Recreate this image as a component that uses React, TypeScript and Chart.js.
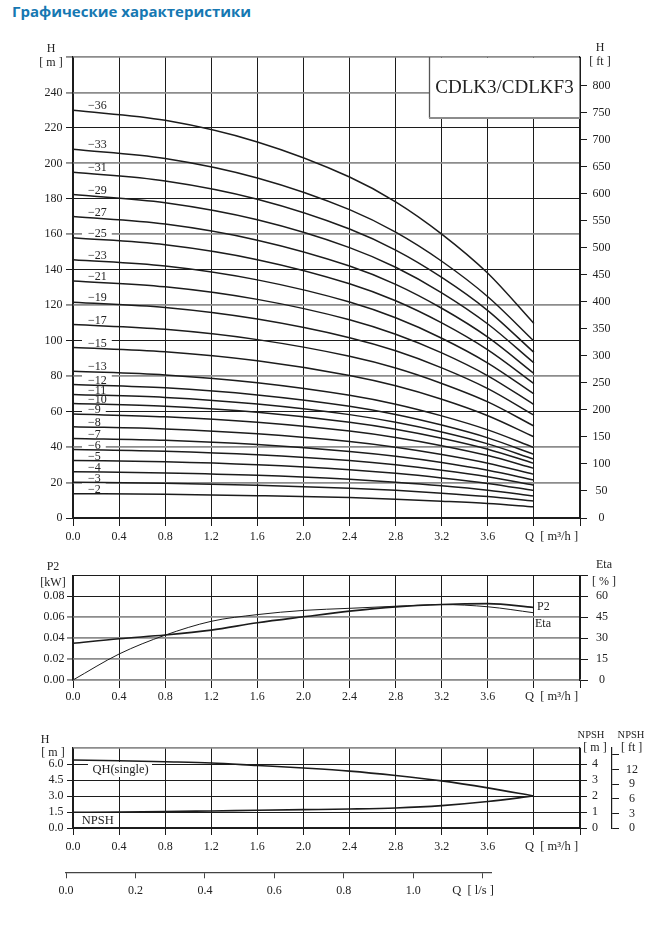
import React, { useEffect, useRef } from 'react';
import { Chart, registerables } from 'chart.js';

Chart.register(...registerables);

const SERIF = "'Liberation Serif', 'DejaVu Serif', serif";
const INK = '#1c1c1c';
const GREY = '#8c8c8c';
const TXT = '#222';

// ---------------- shared Q axis (m³/h) ----------------
const Q_MAX = 4.4;
const Q_AXIS_TICKS = [0, 0.4, 0.8, 1.2, 1.6, 2.0, 2.4, 2.8, 3.2, 3.6, 4.0, 4.4];
const Q_AXIS_LABELS = ['0.0', '0.4', '0.8', '1.2', '1.6', '2.0', '2.4', '2.8', '3.2', '3.6', '', ''];

// ---------------- top panel: H per stage count ----------------
const M_TO_FT = 3.28084;
const H_M_MAX = 260;
const H_M_TICKS = [0, 20, 40, 60, 80, 100, 120, 140, 160, 180, 200, 220, 240, 260];
const H_M_LABELS = ['0', '20', '40', '60', '80', '100', '120', '140', '160', '180', '200', '220', '240', ''];
const H_M_GREY = [20, 40, 80, 120, 160, 200, 240, 260];
const H_FT_TICKS = [0, 50, 100, 150, 200, 250, 300, 350, 400, 450, 500, 550, 600, 650, 700, 750, 800];
const H_FT_LABELS = ['0', '50', '100', '150', '200', '250', '300', '350', '400', '450', '500', '550', '600', '650', '700', '750', '800'];

const Q_CURVE = [0, 0.8, 1.6, 2.4, 2.8, 3.2, 3.6, 4.0];
const STAGES = [36, 33, 31, 29, 27, 25, 23, 21, 19, 17, 15, 13, 12, 11, 10, 9, 8, 7, 6, 5, 4, 3, 2];
const H_S36 = [230, 224.3, 212.1, 192.3, 178.3, 160.1, 138.0, 109.7];
const H_S33 = [208, 202.8, 191.8, 173.9, 161.2, 144.8, 124.8, 99.8];
const H_S31 = [195, 190.1, 179.8, 163.0, 151.1, 135.7, 117.0, 93.4];
const H_S29 = [182.4, 177.8, 168.2, 152.5, 141.4, 127.0, 109.4, 87.5];
const H_S27 = [170, 165.8, 156.7, 142.1, 131.8, 118.3, 102.0, 81.5];
const H_S25 = [158, 154.1, 145.7, 132.1, 122.5, 110.0, 94.8, 75.8];
const H_S23 = [145.7, 142.1, 134.3, 121.8, 112.9, 101.4, 87.4, 70.0];
const H_S21 = [133.7, 130.4, 123.3, 111.8, 103.6, 93.1, 80.2, 64.0];
const H_S19 = [121.7, 118.7, 112.2, 101.7, 94.3, 84.7, 73.0, 58.0];
const H_S17 = [109.1, 106.4, 100.6, 91.2, 84.6, 75.9, 65.5, 51.9];
const H_S15 = [96.2, 93.8, 88.7, 80.4, 74.6, 67.0, 57.7, 45.8];
const H_S13 = [82.8, 80.7, 76.3, 69.2, 64.2, 57.6, 49.7, 39.8];
const H_S12 = [75.3, 73.4, 69.4, 63.0, 58.4, 52.4, 45.2, 35.9];
const H_S11 = [69.7, 68.0, 64.3, 58.3, 54.0, 48.5, 41.8, 33.2];
const H_S10 = [64.6, 63.0, 59.6, 54.0, 50.1, 45.0, 38.8, 30.8];
const H_S9 = [58.6, 57.1, 54.0, 49.0, 45.4, 40.8, 35.2, 28.0];
const H_S8 = [51.5, 50.2, 47.5, 43.1, 39.9, 35.8, 30.9, 24.6];
const H_S7 = [44.9, 43.8, 41.4, 37.5, 34.8, 31.3, 26.9, 21.4];
const H_S6 = [38.7, 37.7, 35.7, 32.4, 30.0, 26.9, 23.2, 18.5];
const H_S5 = [32.5, 31.7, 30.0, 27.2, 25.2, 22.6, 19.5, 15.5];
const H_S4 = [26.1, 25.4, 24.1, 21.8, 20.2, 18.2, 15.7, 12.4];
const H_S3 = [20.1, 19.6, 18.5, 16.8, 15.6, 14.0, 12.1, 9.6];
const H_S2 = [13.7, 13.4, 12.6, 11.5, 10.6, 9.5, 8.2, 6.3];
const H_CURVES = [H_S36, H_S33, H_S31, H_S29, H_S27, H_S25, H_S23, H_S21, H_S19, H_S17, H_S15, H_S13,
  H_S12, H_S11, H_S10, H_S9, H_S8, H_S7, H_S6, H_S5, H_S4, H_S3, H_S2];
const MODEL_NAME = 'CDLK3/CDLKF3';

// ---------------- middle panel: P2 / Eta ----------------
const Q_PERF = [0, 0.4, 0.8, 1.2, 1.6, 2.0, 2.4, 2.8, 3.2, 3.6, 4.0];
const P2_KW = [0.035, 0.0394, 0.0429, 0.0476, 0.0546, 0.0603, 0.0657, 0.0698, 0.0721, 0.0729, 0.0692];
const ETA_PCT = [0, 18.6, 32.1, 42.0, 46.8, 49.8, 51.3, 52.8, 54.0, 52.4, 48.1];
const P2_MAX = 0.1;
const P2_TICKS = [0, 0.02, 0.04, 0.06, 0.08, 0.1];
const P2_LABELS = ['0.00', '0.02', '0.04', '0.06', '0.08', ''];
const P2_GREY = [0, 0.02, 0.04, 0.06];
const ETA_MAX = 75;
const ETA_TICKS = [0, 15, 30, 45, 60, 75];
const ETA_LABELS = ['0', '15', '30', '45', '60', ''];

// ---------------- bottom panel: QH(single) / NPSH ----------------
const QH_SINGLE = [6.37, 6.3, 6.21, 6.1, 5.86, 5.62, 5.33, 4.92, 4.42, 3.76, 3.0];
const NPSH_M = [1.47, 1.5, 1.54, 1.6, 1.66, 1.72, 1.78, 1.88, 2.1, 2.48, 3.0];
const HS_MAX = 7.5;
const HS_TICKS = [0, 1.5, 3.0, 4.5, 6.0, 7.5];
const HS_LABELS = ['0.0', '1.5', '3.0', '4.5', '6.0', ''];
const NPSH_M_MAX = 5;
const NPSH_M_TICKS = [0, 1, 2, 3, 4, 5];
const NPSH_M_LABELS = ['0', '1', '2', '3', '4', ''];
const NPSH_FT_TICKS = [0, 3, 6, 9, 12, 15];
const NPSH_FT_LABELS = ['0', '3', '6', '9', '12', ''];

// ---------------- l/s axis ----------------
const QLS_MAX = 1.224;
const QLS_TICKS = [0, 0.2, 0.4, 0.6, 0.8, 1.0, 1.2];
const QLS_LABELS = ['0.0', '0.2', '0.4', '0.6', '0.8', '1.0', ''];

// ---------------- layout (page coordinates) ----------------
const W = 653;
const TOP_Y = 30, TOP_H = 530;
const MID_Y = 560, MID_H = 150;
const BOT_Y = 710, BOT_H = 150;
const LS_Y = 860, LS_H = 70;

const fixed = (vals: number[]) => (s: any) => { s.ticks = vals.map((v) => ({ value: v })); };
const lbl = (labels: string[]) => (_v: any, i: number) => labels[i] ?? '';
const tickFont = { family: SERIF, size: 12 };

function text(ctx: CanvasRenderingContext2D, s: string, x: number, y: number, size = 12, align: CanvasTextAlign = 'center') {
  ctx.font = `${size}px ${SERIF}`;
  ctx.textAlign = align;
  ctx.textBaseline = 'middle';
  ctx.fillStyle = TXT;
  ctx.fillText(s, x, y);
}

function qAxis(height: number, pad: number, tickLen: number, borderColor: string) {
  return {
    type: 'linear', position: 'bottom', min: 0, max: Q_MAX,
    afterFit: (s: any) => { s.height = height; },
    afterBuildTicks: fixed(Q_AXIS_TICKS),
    ticks: { callback: lbl(Q_AXIS_LABELS), autoSkip: false, maxRotation: 0, padding: pad, font: tickFont, color: TXT },
    grid: { color: INK, lineWidth: 1, tickLength: tickLen },
    border: { color: borderColor, width: 1.2 },
  };
}

const baseOptions = {
  responsive: false,
  animation: false,
  events: [],
  plugins: { legend: { display: false }, tooltip: { enabled: false } },
};

// ---------------- top chart ----------------
const topDecor = {
  id: 'topDecor',
  beforeDatasetsDraw(chart: any) {
    const ctx = chart.ctx as CanvasRenderingContext2D;
    const y = chart.scales.y;
    ctx.save();
    ctx.font = `12px ${SERIF}`;
    STAGES.forEach((n, i) => {
      const cy = y.getPixelForValue(H_CURVES[i][0]) - 4;
      const w = ctx.measureText(`\u2212${n}`).width;
      H_M_TICKS.forEach((g) => {
        const gy = y.getPixelForValue(g);
        if (Math.abs(gy - cy) < 4.6) {
          ctx.fillStyle = '#fff';
          ctx.fillRect(82, gy - 1.8, 88 + w + 5 - 82, 3.6);
        }
      });
    });
    ctx.restore();
  },
  afterDatasetsDraw(chart: any) {
    const ctx = chart.ctx as CanvasRenderingContext2D;
    const y = chart.scales.y;
    ctx.save();
    STAGES.forEach((n, i) => {
      const cy = y.getPixelForValue(H_CURVES[i][0]) - 4;
      text(ctx, `\u2212${n}`, 88, cy, 12, 'left');
    });
    // model box
    const top = chart.chartArea.top;
    ctx.fillStyle = '#fff';
    ctx.fillRect(429.5, top + 1, 150, 60.2);
    ctx.strokeStyle = '#555';
    ctx.lineWidth = 1.3;
    ctx.beginPath();
    ctx.moveTo(429.5, top);
    ctx.lineTo(429.5, top + 61);
    ctx.stroke();
    ctx.strokeStyle = GREY;
    ctx.lineWidth = 1.8;
    ctx.beginPath();
    ctx.moveTo(429, top + 61);
    ctx.lineTo(580, top + 61);
    ctx.stroke();
    text(ctx, MODEL_NAME, 504.5, 88.3 - TOP_Y, 19);
    // axis titles
    text(ctx, 'H', 51, 49 - TOP_Y);
    text(ctx, '[ m ]', 51, 63 - TOP_Y);
    text(ctx, 'H', 600, 48 - TOP_Y);
    text(ctx, '[ ft ]', 600, 61.7 - TOP_Y);
    text(ctx, 'Q  [ m\u00b3/h ]', 525, 537 - TOP_Y, 12.5, 'left');
    ctx.restore();
  },
};

function topConfig(): any {
  const datasets = STAGES.map((n, i) => ({
    label: `\u2212${n}`,
    data: Q_CURVE.map((q, j) => ({ x: q, y: H_CURVES[i][j] })),
    borderColor: INK,
    borderWidth: 1.5,
    pointRadius: 0,
    fill: false,
    cubicInterpolationMode: 'monotone',
  }));
  return {
    type: 'line',
    data: { datasets },
    options: {
      ...baseOptions,
      layout: { padding: { top: 57 - TOP_Y, left: 0, right: 0, bottom: 0 } },
      scales: {
        x: qAxis(TOP_Y + TOP_H - 518, 4, 8, INK),
        y: {
          type: 'linear', position: 'left', min: 0, max: H_M_MAX,
          afterFit: (s: any) => { s.width = 73; },
          afterBuildTicks: fixed(H_M_TICKS),
          ticks: { callback: lbl(H_M_LABELS), autoSkip: false, padding: 3.5, font: tickFont, color: TXT },
          grid: {
            color: (c: any) => (H_M_GREY.includes(c.tick?.value) ? GREY : INK),
            lineWidth: (c: any) => (H_M_GREY.includes(c.tick?.value) ? 1.8 : 1),
            tickLength: 7,
          },
          border: { color: INK, width: 1.2 },
        },
        yft: {
          type: 'linear', position: 'right', min: 0, max: H_M_MAX * M_TO_FT,
          afterFit: (s: any) => { s.width = W - 580; },
          afterBuildTicks: fixed(H_FT_TICKS),
          ticks: { callback: lbl(H_FT_LABELS), autoSkip: false, padding: 5.4, crossAlign: 'center', font: tickFont, color: TXT },
          grid: { drawOnChartArea: false, color: INK, lineWidth: 1, tickLength: 7 },
          border: { color: INK, width: 1.2 },
        },
      },
    },
    plugins: [topDecor],
  };
}

// ---------------- middle chart ----------------
const midDecor = {
  id: 'midDecor',
  afterDatasetsDraw(chart: any) {
    const ctx = chart.ctx as CanvasRenderingContext2D;
    ctx.save();
    text(ctx, 'P2', 53, 567 - MID_Y);
    text(ctx, '[kW]', 53, 583 - MID_Y);
    text(ctx, 'Eta', 604, 565 - MID_Y);
    text(ctx, '[ % ]', 604, 581.7 - MID_Y);
    text(ctx, 'P2', 537, 606.7 - MID_Y, 12, 'left');
    text(ctx, 'Eta', 535, 624 - MID_Y, 12, 'left');
    text(ctx, 'Q  [ m\u00b3/h ]', 525, 696.7 - MID_Y, 12.5, 'left');
    ctx.restore();
  },
};

function midConfig(): any {
  return {
    type: 'line',
    data: {
      datasets: [
        {
          label: 'P2', yAxisID: 'y',
          data: Q_PERF.map((q, j) => ({ x: q, y: P2_KW[j] })),
          borderColor: INK, borderWidth: 1.6, pointRadius: 0, fill: false, cubicInterpolationMode: 'monotone',
        },
        {
          label: 'Eta', yAxisID: 'yE',
          data: Q_PERF.map((q, j) => ({ x: q, y: ETA_PCT[j] })),
          borderColor: INK, borderWidth: 1.0, pointRadius: 0, fill: false, cubicInterpolationMode: 'monotone',
        },
      ],
    },
    options: {
      ...baseOptions,
      layout: { padding: { top: 574 - MID_Y, left: 0, right: 0, bottom: 0 } },
      scales: {
        x: qAxis(MID_Y + MID_H - 680, 1.5, 8, GREY),
        y: {
          type: 'linear', position: 'left', min: 0, max: P2_MAX,
          afterFit: (s: any) => { s.width = 73; },
          afterBuildTicks: fixed(P2_TICKS),
          ticks: { callback: lbl(P2_LABELS), autoSkip: false, padding: 2.5, font: tickFont, color: TXT },
          grid: {
            color: (c: any) => (P2_GREY.includes(c.tick?.value) ? GREY : INK),
            lineWidth: (c: any) => (P2_GREY.includes(c.tick?.value) ? 1.8 : 1),
            tickColor: (c: any) => (c.tick?.value === P2_MAX ? 'rgba(0,0,0,0)' : P2_GREY.includes(c.tick?.value) ? GREY : INK),
            tickLength: 6,
          },
          border: { color: INK, width: 1.2 },
        },
        yE: {
          type: 'linear', position: 'right', min: 0, max: ETA_MAX,
          afterFit: (s: any) => { s.width = W - 580; },
          afterBuildTicks: fixed(ETA_TICKS),
          ticks: { callback: lbl(ETA_LABELS), autoSkip: false, padding: 8, crossAlign: 'center', font: tickFont, color: TXT },
          grid: { drawOnChartArea: false, color: INK, lineWidth: 1, tickLength: 8 },
          border: { color: INK, width: 1.2 },
        },
      },
    },
    plugins: [midDecor],
  };
}

// ---------------- bottom chart ----------------
const botDecor = {
  id: 'botDecor',
  beforeDatasetsDraw(chart: any) {
    const ctx = chart.ctx as CanvasRenderingContext2D;
    ctx.save();
    ctx.fillStyle = '#fff';
    ctx.fillRect(88, 762 - BOT_Y, 64, 15);
    ctx.restore();
  },
  afterDatasetsDraw(chart: any) {
    const ctx = chart.ctx as CanvasRenderingContext2D;
    ctx.save();
    text(ctx, 'QH(single)', 120.5, 769.3 - BOT_Y, 12.5);
    text(ctx, 'NPSH', 81.7, 820.7 - BOT_Y, 12.5, 'left');
    text(ctx, 'H', 45, 740 - BOT_Y);
    text(ctx, '[ m ]', 53, 753.3 - BOT_Y);
    text(ctx, 'NPSH', 591, 735 - BOT_Y, 10.5);
    text(ctx, '[ m ]', 595, 748.3 - BOT_Y);
    text(ctx, 'NPSH', 631, 735 - BOT_Y, 10.5);
    text(ctx, '[ ft ]', 631.7, 748 - BOT_Y);
    text(ctx, 'Q  [ m\u00b3/h ]', 525, 847 - BOT_Y, 12.5, 'left');
    ctx.restore();
  },
};

function botConfig(): any {
  return {
    type: 'line',
    data: {
      datasets: [
        {
          label: 'QH(single)', yAxisID: 'y',
          data: Q_PERF.map((q, j) => ({ x: q, y: QH_SINGLE[j] })),
          borderColor: INK, borderWidth: 1.6, pointRadius: 0, fill: false, cubicInterpolationMode: 'monotone',
        },
        {
          label: 'NPSH', yAxisID: 'y',
          data: Q_PERF.map((q, j) => ({ x: q, y: NPSH_M[j] })),
          borderColor: INK, borderWidth: 1.6, pointRadius: 0, fill: false, cubicInterpolationMode: 'monotone',
        },
      ],
    },
    options: {
      ...baseOptions,
      layout: { padding: { top: 748 - BOT_Y, left: 0, right: 0, bottom: 0 } },
      scales: {
        x: qAxis(BOT_Y + BOT_H - 828, 5, 7, INK),
        y: {
          type: 'linear', position: 'left', min: 0, max: HS_MAX,
          afterFit: (s: any) => { s.width = 73; },
          afterBuildTicks: fixed(HS_TICKS),
          ticks: { callback: lbl(HS_LABELS), autoSkip: false, padding: 3.5, font: tickFont, color: TXT },
          grid: {
            color: (c: any) => (c.tick?.value === HS_MAX ? GREY : INK),
            lineWidth: (c: any) => (c.tick?.value === HS_MAX ? 1.8 : 1),
            tickColor: (c: any) => (c.tick?.value === HS_MAX ? 'rgba(0,0,0,0)' : INK),
            tickLength: 6,
          },
          border: { color: INK, width: 1.2 },
        },
        yN: {
          type: 'linear', position: 'right', weight: 0, min: 0, max: NPSH_M_MAX,
          afterFit: (s: any) => { s.width = 32; },
          afterBuildTicks: fixed(NPSH_M_TICKS),
          ticks: { callback: lbl(NPSH_M_LABELS), autoSkip: false, padding: 5, crossAlign: 'center', font: tickFont, color: TXT },
          grid: {
            drawOnChartArea: false, lineWidth: 1, tickLength: 7,
            color: (c: any) => (c.tick?.value === NPSH_M_MAX ? 'rgba(0,0,0,0)' : INK),
          },
          border: { color: INK, width: 1.2 },
        },
        yF: {
          type: 'linear', position: 'right', weight: 1, min: 0, max: NPSH_M_MAX * M_TO_FT,
          afterFit: (s: any) => { s.width = W - 612; },
          afterBuildTicks: fixed(NPSH_FT_TICKS),
          ticks: { callback: lbl(NPSH_FT_LABELS), autoSkip: false, padding: 7, crossAlign: 'center', font: tickFont, color: TXT },
          grid: { drawOnChartArea: false, color: INK, lineWidth: 1, tickLength: 7 },
          border: { color: INK, width: 1.2 },
        },
      },
    },
    plugins: [botDecor],
  };
}

// ---------------- l/s axis chart ----------------
const lsDecor = {
  id: 'lsDecor',
  afterDraw(chart: any) {
    const ctx = chart.ctx as CanvasRenderingContext2D;
    ctx.save();
    text(ctx, 'Q  [ l/s ]', 473, 891 - LS_Y, 12.5);
    ctx.restore();
  },
};

function lsConfig(): any {
  return {
    type: 'line',
    data: { datasets: [{ data: [], pointRadius: 0 }] },
    options: {
      ...baseOptions,
      layout: { padding: { top: 2, left: 66, right: W - 491, bottom: 0 } },
      scales: {
        x: {
          type: 'linear', position: 'bottom', min: 0, max: QLS_MAX,
          afterFit: (s: any) => { s.height = LS_H - 12.3; },
          afterBuildTicks: fixed(QLS_TICKS),
          ticks: { callback: lbl(QLS_LABELS), autoSkip: false, maxRotation: 0, padding: 5.8, font: tickFont, color: TXT },
          grid: { drawOnChartArea: false, color: '#444', lineWidth: 1, tickLength: 6 },
          border: { color: '#444', width: 1.2 },
        },
        y: { display: false, min: 0, max: 1 },
      },
    },
    plugins: [lsDecor],
  };
}

export default function App() {
  const topRef = useRef<HTMLCanvasElement>(null);
  const midRef = useRef<HTMLCanvasElement>(null);
  const botRef = useRef<HTMLCanvasElement>(null);
  const lsRef = useRef<HTMLCanvasElement>(null);

  useEffect(() => {
    const charts = [
      new Chart(topRef.current as HTMLCanvasElement, topConfig()),
      new Chart(midRef.current as HTMLCanvasElement, midConfig()),
      new Chart(botRef.current as HTMLCanvasElement, botConfig()),
      new Chart(lsRef.current as HTMLCanvasElement, lsConfig()),
    ];
    return () => charts.forEach((c) => c.destroy());
  }, []);

  const cv = (top: number, h: number): React.CSSProperties => ({
    position: 'absolute', left: 0, top, width: W, height: h, display: 'block',
  });

  return (
    <div style={{ position: 'absolute', left: 0, top: 0, width: W, height: 930, background: '#fff', overflow: 'hidden' }}>
      <div
        style={{
          position: 'absolute', left: 12, top: 0, whiteSpace: 'nowrap',
          font: "bold 15px 'Open Sans', 'Noto Sans', sans-serif", lineHeight: '23px', color: '#1678b2',
        }}
      >
        Графические характеристики
      </div>
      <canvas ref={topRef} width={W} height={TOP_H} style={cv(TOP_Y, TOP_H)} />
      <canvas ref={midRef} width={W} height={MID_H} style={cv(MID_Y, MID_H)} />
      <canvas ref={botRef} width={W} height={BOT_H} style={cv(BOT_Y, BOT_H)} />
      <canvas ref={lsRef} width={W} height={LS_H} style={cv(LS_Y, LS_H)} />
    </div>
  );
}
